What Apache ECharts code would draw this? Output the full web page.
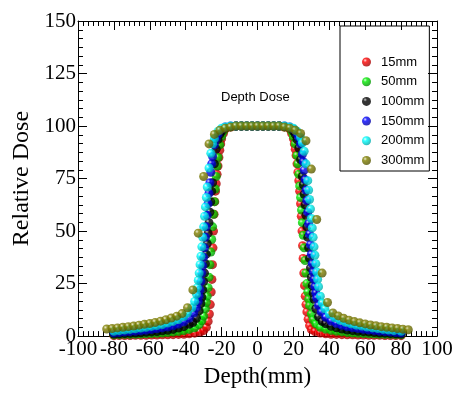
<!DOCTYPE html>
<html>
<head>
<meta charset="utf-8">
<script src="https://cdn.jsdelivr.net/npm/echarts@6/dist/echarts.min.js"></script>
<style>
  html, body { margin: 0; padding: 0; background: #fff; }
  #chart { width: 459px; height: 393px; }
</style>
</head>
<body>
<div id="chart"></div>
<script>
// depth (mm), relative dose
const s15 = [
  [-80,0.2],[-77,0.3],[-74,0.3],[-71,0.3],[-68,0.4],[-65,0.4],[-62,0.4],[-59,0.5],[-56,0.5],[-53,0.6],[-50,0.6],[-47,0.7],[-44,0.8],[-41,0.9],[-38,1.1],[-35,1.4],[-32,1.9],[-30,2.6],[-28.5,4.2],[-27.5,7],[-26.8,10.5],[-26.3,15],[-25.8,21],[-25.4,27],[-25.1,34],[-24.8,42],[-24.5,50],[-24.2,58],[-23.8,64],[-23.4,69],[-23,72.5],[-22.5,77],[-22,81],[-21.5,85],[-21,88.5],[-20.5,91.5],[-20,94],[-19,96.5],[-18,98.5],[-15,99.5],[-12,100],[-9,100],[-6,100],[-3,100],[0,100],[3,100],[6,100],[9,100],[12,100],[15,99.5],[18,98.5],[19,96.5],[20,94],[20.5,91.5],[21,89],[21.5,86],[22,82],[22.5,78],[23,74],[23.5,69],[24,63],[24.4,57],[24.8,50],[25.1,43],[25.4,37],[25.8,30],[26.2,24],[26.6,19],[27,15],[27.5,11.5],[28.2,8],[29,5],[30,3.1],[32,2.2],[35,1.5],[38,1.1],[41,0.9],[44,0.8],[47,0.7],[50,0.6],[53,0.6],[56,0.5],[59,0.5],[62,0.4],[65,0.4],[68,0.4],[71,0.3],[74,0.3],[77,0.3],[80,0.2]
]
const s50 = [
  [-80,0.6],[-77,0.7],[-74,0.8],[-71,0.8],[-68,0.9],[-65,1.0],[-62,1.1],[-59,1.2],[-56,1.3],[-53,1.5],[-50,1.7],[-47,1.9],[-44,2.2],[-41,2.6],[-38,3.2],[-35,4],[-32.5,5.5],[-31,7.3],[-30,9.5],[-29,13],[-28.5,16],[-28,19],[-27.5,23],[-27,28],[-26.5,34],[-26,40],[-25.5,46],[-25,52],[-24.5,58],[-24,64],[-23.5,70],[-23,76],[-22.5,81],[-22,85],[-21,91],[-20,95],[-19,97.5],[-18,99],[-15,99.7],[-12,100],[-9,100],[-6,100],[-3,100],[0,100],[3,100],[6,100],[9,100],[12,100],[15,99.7],[18,99],[19,97.5],[20,95],[21,91.5],[22,86],[22.5,82],[23,77],[23.5,71.5],[24,66],[24.5,60],[25,54],[25.5,48],[26,42],[26.5,36],[27,30],[27.5,25],[28,21],[28.5,17.5],[29,14.5],[30,10.5],[31,7.8],[32.5,5.8],[35,4.2],[38,3.3],[41,2.7],[44,2.3],[47,2.0],[50,1.7],[53,1.5],[56,1.3],[59,1.2],[62,1.1],[65,1.0],[68,0.9],[71,0.8],[74,0.8],[77,0.7],[80,0.6]
]
const s100 = [
  [-80,1.0],[-77,1.1],[-74,1.2],[-71,1.3],[-68,1.5],[-65,1.6],[-62,1.8],[-59,2.0],[-56,2.2],[-53,2.5],[-50,2.8],[-47,3.2],[-44,3.8],[-41,4.5],[-38,5.6],[-36,6.5],[-34,8.5],[-32.5,12],[-31.5,15.5],[-31,18.5],[-30.5,22],[-30,26],[-29.5,30],[-29,34.5],[-28.5,39],[-28,44],[-27.5,49],[-27,54],[-26.5,59],[-26,64],[-25.5,69],[-25,73],[-24,82],[-23,89],[-22,93.5],[-21,96],[-20,97.5],[-18,99],[-15,99.7],[-12,100],[-9,100],[-6,100],[-3,100],[0,100],[3,100],[6,100],[9,100],[12,100],[15,99.7],[18,99],[20,97.5],[21,96],[22,93.5],[23,89.5],[24,84],[25,76],[25.5,72],[26,67.5],[26.5,62.5],[27,57.5],[27.5,52],[28,47],[28.5,42],[29,37],[29.5,32.5],[30,28],[30.5,24],[31,20.5],[31.5,17.5],[32.5,13],[34,9.2],[36,7],[38,5.9],[41,4.7],[44,4.0],[47,3.4],[50,2.9],[53,2.6],[56,2.3],[59,2.1],[62,1.9],[65,1.7],[68,1.5],[71,1.4],[74,1.2],[77,1.1],[80,1.0]
]
const s150 = [
  [-80,1.5],[-77,1.7],[-74,1.9],[-71,2.1],[-68,2.3],[-65,2.5],[-62,2.8],[-59,3.1],[-56,3.5],[-53,3.9],[-50,4.3],[-47,4.9],[-44,5.7],[-41,6.8],[-38,8.5],[-35.5,11],[-34,13.5],[-33,16.5],[-32.5,19],[-32,22],[-31.5,26],[-31,30],[-30.5,33.5],[-30,37.5],[-29.5,42],[-29,47],[-28.5,52],[-28,57.5],[-27.5,63],[-27,68],[-26.5,73],[-26,78],[-25.5,82],[-25,85.5],[-24,91],[-23,94],[-22,96],[-20,98.5],[-18,99.5],[-15,100],[-12,100],[-9,100],[-6,100],[-3,100],[0,100],[3,100],[6,100],[9,100],[12,100],[15,100],[18,99.5],[20,98.5],[22,96.5],[23,94.5],[24,91.5],[25,86.5],[25.5,83],[26,79],[26.5,74.5],[27,69.5],[27.5,64.5],[28,59],[28.5,53.5],[29,48.5],[29.5,43.5],[30,39],[30.5,34.5],[31,30.5],[31.5,27],[32,23.5],[32.5,20.5],[33,18],[34,14.5],[35.5,11.5],[38,9],[41,7.2],[44,6.0],[47,5.1],[50,4.4],[53,4.0],[56,3.6],[59,3.2],[62,2.9],[65,2.6],[68,2.3],[71,2.1],[74,1.9],[77,1.7],[80,1.5]
]
const s200 = [
  [-80,2.3],[-77,2.6],[-74,2.9],[-71,3.2],[-68,3.5],[-65,3.8],[-62,4.2],[-59,4.6],[-56,5.0],[-53,5.5],[-50,6.2],[-47,7.0],[-44,7.9],[-41,9.3],[-39,11],[-36.5,13.5],[-35,16.5],[-34,20],[-33.5,23],[-33,26.5],[-32.5,30],[-32,34],[-31.5,38],[-31,42.5],[-30.5,47],[-30,52],[-29.5,57],[-29,61.5],[-28.5,66],[-28,71],[-27,80],[-26,87],[-25,91.5],[-24,94],[-22,97.5],[-20,99],[-18,99.5],[-15,100],[-12,100],[-9,100],[-6,100],[-3,100],[0,100],[3,100],[6,100],[9,100],[12,100],[15,100],[18,99.5],[20,99],[22,97.5],[24,94.5],[25,92],[26,88],[27,82],[28,74],[28.5,69.5],[29,65],[29.5,60.5],[30,56],[30.5,51.5],[31,47],[31.5,42.5],[32,38.5],[32.5,34.5],[33,30.5],[33.5,27],[34,23.5],[35,19],[36,15.7],[37.5,13],[40,10.5],[43,8.7],[46,7.5],[49,6.6],[52,5.8],[55,5.2],[58,4.8],[61,4.3],[64,3.9],[67,3.6],[70,3.2],[73,2.9],[76,2.6],[80,2.3]
]
const s300 = [
  [-84,3.4],[-81,3.6],[-78,3.9],[-75,4.2],[-72,4.5],[-69,4.8],[-66,5.2],[-63,5.6],[-60,6.0],[-57,6.5],[-54,7.1],[-51,7.8],[-48,8.6],[-45,9.5],[-42,10.7],[-39,13.5],[-36,22],[-33,49],[-30,76],[-27,91.5],[-24,96],[-21,98],[-18,99],[-15,99.5],[-12,100],[-9,100],[-6,100],[-3,100],[0,100],[3,100],[6,100],[9,100],[12,100],[15,99.5],[18,99],[21,98],[24,96.5],[27,93],[30,79.5],[33,55.5],[36,30],[39,16],[42,11],[45,9.6],[48,8.5],[51,7.6],[54,6.9],[57,6.3],[60,5.8],[63,5.3],[66,4.9],[69,4.5],[72,4.2],[75,3.9],[78,3.6],[81,3.3],[84,3.0]
]
const names = ['15mm', '50mm', '100mm', '150mm', '200mm', '300mm']
const seriesData = [s15, s50, s100, s150, s200, s300]
const baseColors = ['#ff0000', '#00ee00', '#000000', '#0000ff', '#00ffff', '#808000']
const darkColors = ['#a00000', '#009000', '#000000', '#0000a0', '#00a8a8', '#555500']
const lightColors = ['#ffd8d8', '#d8ffd8', '#bbbbbb', '#d8d8ff', '#e8ffff', '#e8e8c0']

const chart = echarts.init(document.getElementById('chart'), null, { renderer: 'canvas' })

function ball(i) {
  return new echarts.graphic.RadialGradient(0.35, 0.32, 0.7, [
    { offset: 0, color: lightColors[i] },
    { offset: 0.3, color: baseColors[i] },
    { offset: 1, color: darkColors[i] }
  ])
}

const tickFont = { fontFamily: 'Liberation Serif', fontSize: 21, color: '#000' }
const axLine = { onZero: false, lineStyle: { color: '#000', width: 1 } }
const tick = { inside: true, length: 9, lineStyle: { color: '#000' } }

chart.setOption({
  animation: false,
  title: {
    text: 'Depth Dose', left: 221, top: 91, padding: 0,
    textStyle: { fontFamily: 'Liberation Sans', fontSize: 13, fontWeight: 'normal', color: '#000' }
  },
  legend: {
    orient: 'vertical', left: 340, top: 26,
    padding: [29.5, 5, 4, 22], itemGap: 6.7, itemWidth: 9, itemHeight: 9,
    borderColor: '#000', borderWidth: 1, icon: 'circle',
    textStyle: { fontFamily: 'Liberation Sans', fontSize: 13, color: '#000', lineHeight: 9, padding: [0, 0, 0, 5] },
    data: names
  },
  grid: { left: 78, right: 22, top: 21, bottom: 53 },
  xAxis: [
    { type: 'value', min: -100, max: 100, interval: 20, position: 'bottom',
      name: 'Depth(mm)', nameLocation: 'middle', nameGap: 25,
      nameTextStyle: { fontFamily: 'Liberation Serif', fontSize: 23, color: '#000' },
      axisLine: axLine, axisTick: tick,
      minorTick: { show: true, splitNumber: 7, length: 5, lineStyle: { color: '#000' } },
      axisLabel: { ...tickFont, margin: 3 }, splitLine: { show: false } },
    { type: 'value', min: -100, max: 100, interval: 20, position: 'top',
      axisLine: axLine, axisTick: tick,
      minorTick: { show: true, splitNumber: 7, length: 5, lineStyle: { color: '#000' } },
      axisLabel: { show: false }, splitLine: { show: false } }
  ],
  yAxis: [
    { type: 'value', min: 0, max: 150, interval: 25, position: 'left',
      name: 'Relative Dose', nameLocation: 'middle', nameGap: 40,
      nameTextStyle: { fontFamily: 'Liberation Serif', fontSize: 24, color: '#000' },
      axisLine: axLine, axisTick: tick,
      minorTick: { show: true, splitNumber: 6, length: 5, lineStyle: { color: '#000' } },
      axisLabel: { ...tickFont, margin: 2 }, splitLine: { show: false } },
    { type: 'value', min: 0, max: 150, interval: 25, position: 'right',
      axisLine: axLine, axisTick: tick,
      minorTick: { show: true, splitNumber: 6, length: 5, lineStyle: { color: '#000' } },
      axisLabel: { show: false }, splitLine: { show: false } }
  ],
  series: seriesData.map((d, i) => ({
    name: names[i], type: 'scatter', data: d, symbol: 'circle', symbolSize: 9,
    itemStyle: { color: ball(i) }, z: 2 + i
  }))
})
</script>
</body>
</html>
